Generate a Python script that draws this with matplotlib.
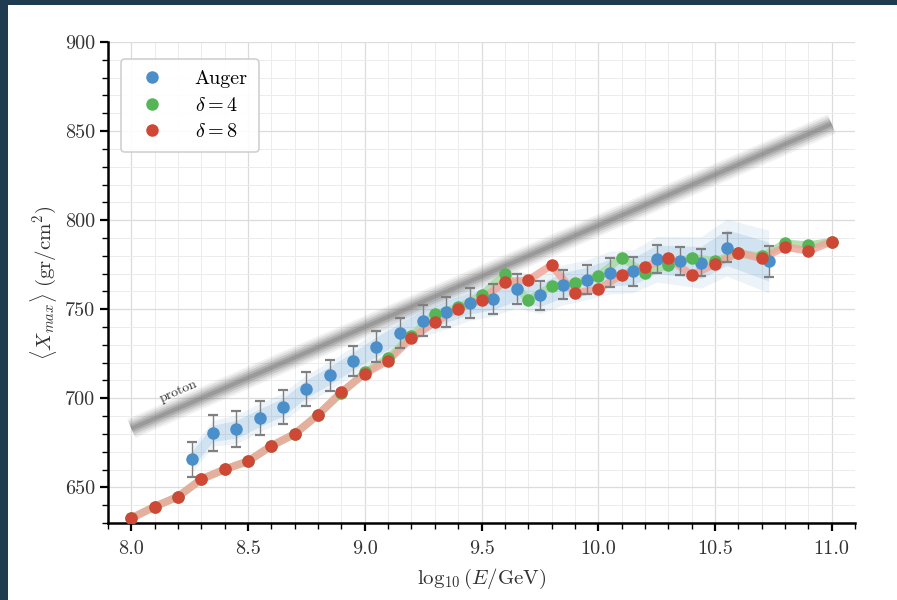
import matplotlib
matplotlib.use("Agg")
import matplotlib.pyplot as plt
import numpy as np
from matplotlib.patches import Rectangle
from matplotlib.ticker import MultipleLocator

plt.rcParams['font.family'] = 'serif'
plt.rcParams['font.serif'] = ['cmr10', 'DejaVu Serif']
plt.rcParams['mathtext.fontset'] = 'cm'
plt.rcParams['axes.formatter.use_mathtext'] = True

#####################################################################
# data

auger_x = [8.26, 8.35, 8.45, 8.55, 8.65, 8.75, 8.85, 8.95, 9.05, 9.15,
           9.25, 9.35, 9.45, 9.55, 9.65, 9.75, 9.85, 9.95, 10.05, 10.15,
           10.25, 10.35, 10.44, 10.55, 10.73]
auger_y = [665.7, 680.4, 682.6, 689.1, 695.1, 705.3, 712.8, 720.9, 729.0, 736.7,
           743.6, 748.6, 753.4, 755.7, 761.3, 757.9, 763.7, 766.5, 770.6, 771.3,
           778.0, 777.1, 776.2, 784.6, 776.8]
auger_err = [10.0, 10.0, 10.0, 9.5, 9.7, 9.6, 8.7, 8.6, 8.9, 8.6,
             8.6, 8.5, 8.4, 8.2, 8.3, 8.1, 8.1, 8.1, 8.2, 8.1,
             7.8, 7.7, 7.7, 8.0, 8.5]
auger_sys = [4.5, 4.5, 5.0, 5.0, 5.0, 5.0, 5.0, 5.0, 5.5, 5.5,
             5.5, 6.0, 6.0, 6.0, 6.5, 6.5, 7.0, 7.0, 7.5, 7.5,
             8.0, 8.5, 9.0, 10.0, 11.0]

model_x = [8.0, 8.1, 8.2, 8.3, 8.4, 8.5, 8.6, 8.7, 8.8, 8.9,
           9.0, 9.1, 9.2, 9.3, 9.4, 9.5, 9.6, 9.7, 9.8, 9.9,
           10.0, 10.1, 10.2, 10.3, 10.4, 10.5, 10.6, 10.7, 10.8, 10.9, 11.0]
delta4_y = [632.7, 639.2, 644.8, 654.6, 660.1, 664.7, 673.3, 680.0, 690.8, 703.0,
            714.5, 722.7, 735.0, 747.3, 751.0, 757.9, 769.7, 755.3, 762.8, 764.5,
            768.7, 779.0, 770.2, 774.9, 779.0, 777.1, 781.3, 779.6, 787.0, 785.9, 788.0]
delta8_y = [632.7, 639.2, 644.8, 654.6, 660.1, 664.7, 673.3, 680.0, 690.8, 703.5,
            713.8, 721.2, 733.9, 742.7, 750.3, 755.3, 765.4, 766.3, 774.7, 758.9,
            761.3, 769.3, 773.9, 778.6, 769.3, 775.3, 781.8, 778.5, 785.0, 782.7, 788.0]

proton_x = [8.0, 11.0]
proton_y = [683.0, 854.0]

#####################################################################

c_blue = '#4a8fc9'
c_green = '#55b557'
c_red = '#cf4735'

fig = plt.figure(figsize=(8.97, 6.0), dpi=100)
fig.patch.set_facecolor('#1f3b50')
fig.patches.append(Rectangle((8 / 897, 0), 1, 595 / 600, transform=fig.transFigure,
                             facecolor='white', edgecolor='none', zorder=-10))

ax = fig.add_axes([108 / 897, 77 / 600, 747 / 897, 481 / 600])
ax.set_facecolor('white')

# proton line, soft grey band
for lw, a in [(15, 0.10), (12, 0.15), (9, 0.22), (6, 0.3), (3, 0.4)]:
    ax.plot(proton_x, proton_y, color='#7a7a7a', lw=lw, alpha=a,
            solid_capstyle='butt', zorder=2)

# auger band
ax_ = np.array(auger_x)
ay_ = np.array(auger_y)
sys_ = np.array(auger_sys)
ax.fill_between(ax_, ay_ - 1.6 * sys_, ay_ + 1.6 * sys_, color=c_blue,
                alpha=0.10, lw=0, zorder=2)
ax.fill_between(ax_, ay_ - sys_, ay_ + sys_, color=c_blue,
                alpha=0.16, lw=0, zorder=2)

# model lines
ax.plot(model_x, delta4_y, color='#a9dba4', lw=5.5, alpha=0.85, zorder=3)
ax.plot(model_x, delta8_y, color='#eea79b', lw=5.5, alpha=0.85, zorder=3)

ax.errorbar(auger_x, auger_y, yerr=auger_err, fmt='none', ecolor='#808080',
            elinewidth=1.0, capsize=3.5, capthick=1.6, zorder=4)
ax.plot(auger_x, auger_y, 'o', color=c_blue, ms=9, mec='none', zorder=5,
        label='Auger')
ax.plot(model_x, delta4_y, 'o', color=c_green, ms=9, mec='none', zorder=5,
        label=r'$\delta = 4$')
ax.plot(model_x, delta8_y, 'o', color=c_red, ms=9, mec='none', zorder=6,
        label=r'$\delta = 8$')

ax.set_xlim(7.9, 11.1)
ax.set_ylim(630, 900)

ax.xaxis.set_major_locator(MultipleLocator(0.5))
ax.xaxis.set_minor_locator(MultipleLocator(0.1))
ax.yaxis.set_major_locator(MultipleLocator(50))
ax.yaxis.set_minor_locator(MultipleLocator(10))
ax.xaxis.set_major_formatter(matplotlib.ticker.FormatStrFormatter('%.1f'))
ax.yaxis.set_major_formatter(matplotlib.ticker.FormatStrFormatter('%d'))

ax.grid(which='major', color='#dcdcdc', lw=0.9, zorder=0)
ax.grid(which='minor', color='#ececec', lw=0.7, zorder=0)
ax.set_axisbelow(True)

for s in ['top', 'right']:
    ax.spines[s].set_visible(False)
for s in ['left', 'bottom']:
    ax.spines[s].set_linewidth(1.8)
    ax.spines[s].set_color('black')

ax.tick_params(which='major', direction='out', length=6, width=1.6,
               labelsize=14.5, colors='black', labelcolor='#333333')
ax.tick_params(axis='x', which='major', pad=6)
ax.tick_params(which='minor', direction='out', length=4, width=1.0)

ax.set_xlabel(r'$\log_{10}(E/\mathrm{GeV})$', fontsize=15, color='#333333',
              labelpad=7)
ax.set_ylabel(r'$\langle X_{max}\rangle\ (\mathrm{gr/cm^2})$', fontsize=15,
              color='#333333')

leg = ax.legend(loc='upper left', fontsize=14.5, frameon=True, fancybox=True,
                borderpad=0.55, handletextpad=1.1, labelspacing=0.4,
                bbox_to_anchor=(0.004, 0.985))
leg.get_frame().set_edgecolor('#cccccc')
leg.get_frame().set_linewidth(1.2)
leg.get_frame().set_alpha(0.9)

# label on the proton line
p0 = ax.transData.transform((proton_x[0], proton_y[0]))
p1 = ax.transData.transform((proton_x[1], proton_y[1]))
ang = np.degrees(np.arctan2(p1[1] - p0[1], p1[0] - p0[0]))
ax.text(8.2, 704, 'proton', rotation=ang, rotation_mode='anchor',
        ha='center', va='center', fontsize=10, color='#333333', zorder=7)

fig.savefig('out.png', dpi=100, facecolor=fig.get_facecolor())
